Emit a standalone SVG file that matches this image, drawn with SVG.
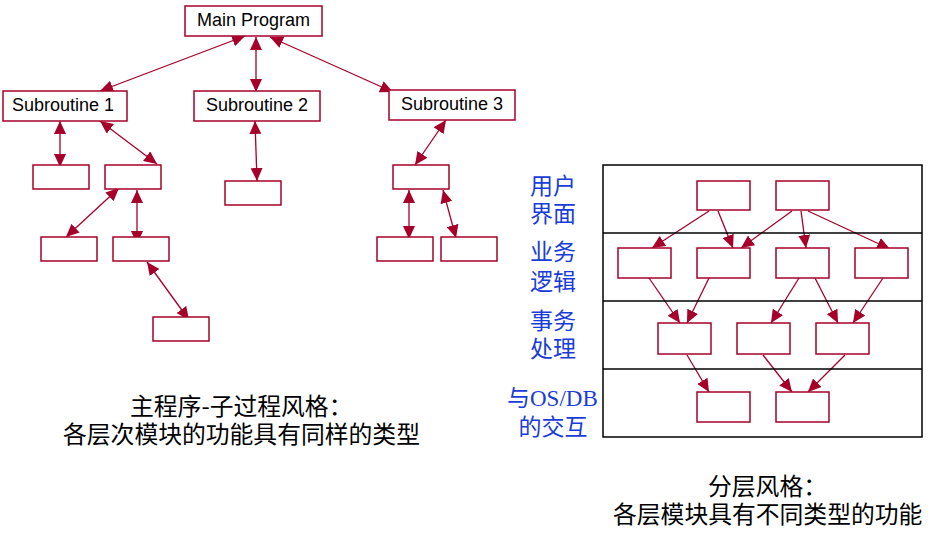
<svg xmlns="http://www.w3.org/2000/svg" width="938" height="541" viewBox="0 0 938 541">
<style>
.box{fill:#fff;stroke:#A6002A;stroke-width:1.5}
.lbl{font-family:"Liberation Sans",Arial,sans-serif;font-size:18px;fill:#000;text-anchor:middle}
.cap{font-family:"Noto Sans CJK SC",sans-serif;font-size:23.8px;fill:#000}
.layer{font-family:"Noto Sans CJK SC",sans-serif;font-size:23px;fill:#1a3cd8}
.con{stroke:#A6002A;stroke-width:1.3;fill:none}
.dbl{marker-start:url(#ah);marker-end:url(#ah)}
.sgl{marker-end:url(#ah)}
</style>
<defs>
<marker id="ah" markerUnits="userSpaceOnUse" markerWidth="13" markerHeight="12" refX="13" refY="6" orient="auto-start-reverse" viewBox="0 0 13 12">
<path d="M0,0 L13,6 L0,12 z" fill="#A6002A"/>
</marker>
</defs>
<rect width="938" height="541" fill="#fff"/>

<g id="connectors">
<line class="con dbl" x1="245" y1="36" x2="100" y2="91"/>
<line class="con dbl" x1="256" y1="37" x2="256" y2="92"/>
<line class="con dbl" x1="270" y1="37" x2="393" y2="92"/>
<line class="con dbl" x1="60" y1="121" x2="60" y2="167" stroke-width="2"/>
<line class="con dbl" x1="100" y1="121" x2="157" y2="164"/>
<line class="con dbl" x1="255" y1="121" x2="257" y2="181"/>
<line class="con dbl" x1="446" y1="120" x2="415" y2="165"/>
<line class="con dbl" x1="119" y1="188" x2="66" y2="237"/>
<line class="con dbl" x1="137" y1="190" x2="137" y2="244"/>
<line class="con dbl" x1="147" y1="262" x2="189" y2="320"/>
<line class="con dbl" x1="409" y1="190" x2="409" y2="239"/>
<line class="con dbl" x1="443" y1="190" x2="456" y2="238"/>

<line class="con sgl" x1="709" y1="211" x2="652" y2="248"/>
<line class="con sgl" x1="718" y1="211" x2="733" y2="248"/>
<line class="con sgl" x1="792" y1="211" x2="741" y2="248"/>
<line class="con sgl" x1="801" y1="211" x2="806" y2="248"/>
<line class="con sgl" x1="808" y1="211" x2="890" y2="249"/>
<line class="con sgl" x1="649" y1="278" x2="680" y2="323"/>
<line class="con sgl" x1="709" y1="278" x2="687" y2="323"/>
<line class="con sgl" x1="799" y1="278" x2="771" y2="323"/>
<line class="con sgl" x1="815" y1="278" x2="838" y2="323"/>
<line class="con sgl" x1="883" y1="278" x2="853" y2="323"/>
<line class="con sgl" x1="687" y1="355" x2="709" y2="392"/>
<line class="con sgl" x1="763" y1="355" x2="792" y2="392"/>
<line class="con sgl" x1="845" y1="355" x2="808" y2="392"/>
</g>

<g id="main-program"><rect class="box" x="185" y="6" width="137" height="30"/><text class="lbl" x="253.5" y="26">Main Program</text></g>
<g id="subroutine-1"><rect class="box" x="3" y="91" width="124" height="30"/><text class="lbl" x="63" y="110.5">Subroutine 1</text></g>
<g id="subroutine-2"><rect class="box" x="194" y="91" width="126" height="30"/><text class="lbl" x="257" y="110.5">Subroutine 2</text></g>
<g id="subroutine-3"><rect class="box" x="389" y="90" width="126" height="30"/><text class="lbl" x="452" y="109.5">Subroutine 3</text></g>

<g id="s1-a"><rect class="box" x="33" y="165" width="56" height="24"/></g>
<g id="s1-b"><rect class="box" x="105" y="165" width="56" height="24"/></g>
<g id="s2-a"><rect class="box" x="225" y="181" width="56" height="24"/></g>
<g id="s3-a"><rect class="box" x="393" y="165" width="56" height="24"/></g>
<g id="s1-b-1"><rect class="box" x="41" y="237" width="56" height="24"/></g>
<g id="s1-b-2"><rect class="box" x="113" y="237" width="56" height="24"/></g>
<g id="s3-a-1"><rect class="box" x="377" y="237" width="56" height="24"/></g>
<g id="s3-a-2"><rect class="box" x="441" y="237" width="56" height="24"/></g>
<g id="s1-b-2-1"><rect class="box" x="153" y="317" width="56" height="24"/></g>

<g id="layers">
<rect x="603" y="165" width="319" height="272" fill="none" stroke="#000" stroke-width="1.5"/>
<line x1="603" y1="233" x2="922" y2="233" stroke="#000" stroke-width="1.5"/>
<line x1="603" y1="301" x2="922" y2="301" stroke="#000" stroke-width="1.5"/>
<line x1="603" y1="369" x2="922" y2="369" stroke="#000" stroke-width="1.5"/>
</g>

<g id="ui-1"><rect class="box" x="697" y="181" width="53" height="29"/></g>
<g id="ui-2"><rect class="box" x="776" y="181" width="53" height="29"/></g>
<g id="bl-1"><rect class="box" x="618" y="248" width="53" height="30"/></g>
<g id="bl-2"><rect class="box" x="697" y="248" width="53" height="30"/></g>
<g id="bl-3"><rect class="box" x="776" y="248" width="53" height="30"/></g>
<g id="bl-4"><rect class="box" x="855" y="248" width="53" height="30"/></g>
<g id="tx-1"><rect class="box" x="658" y="323" width="53" height="31"/></g>
<g id="tx-2"><rect class="box" x="737" y="323" width="53" height="31"/></g>
<g id="tx-3"><rect class="box" x="816" y="323" width="53" height="31"/></g>
<g id="db-1"><rect class="box" x="697" y="392" width="53" height="30"/></g>
<g id="db-2"><rect class="box" x="776" y="392" width="53" height="30"/></g>

<g id="layer-labels">
<text class="layer" x="553" y="194" text-anchor="middle">用户</text>
<text class="layer" x="553" y="222" text-anchor="middle">界面</text>
<text class="layer" x="553" y="260" text-anchor="middle">业务</text>
<text class="layer" x="553" y="290" text-anchor="middle">逻辑</text>
<text class="layer" x="553" y="329" text-anchor="middle">事务</text>
<text class="layer" x="553" y="357" text-anchor="middle">处理</text>
<text class="layer" x="507" y="406">与<tspan font-family="'Liberation Serif',serif" font-size="23px">OS/DB</tspan></text>
<text class="layer" x="553" y="435" text-anchor="middle">的交互</text>
</g>

<g id="captions">
<text class="cap" x="130" y="415">主程序-子过程风格：</text>
<text class="cap" x="63" y="443">各层次模块的功能具有同样的类型</text>
<text class="cap" x="708" y="495">分层风格：</text>
<text class="cap" x="613" y="523">各层模块具有不同类型的功能</text>
</g>
</svg>
